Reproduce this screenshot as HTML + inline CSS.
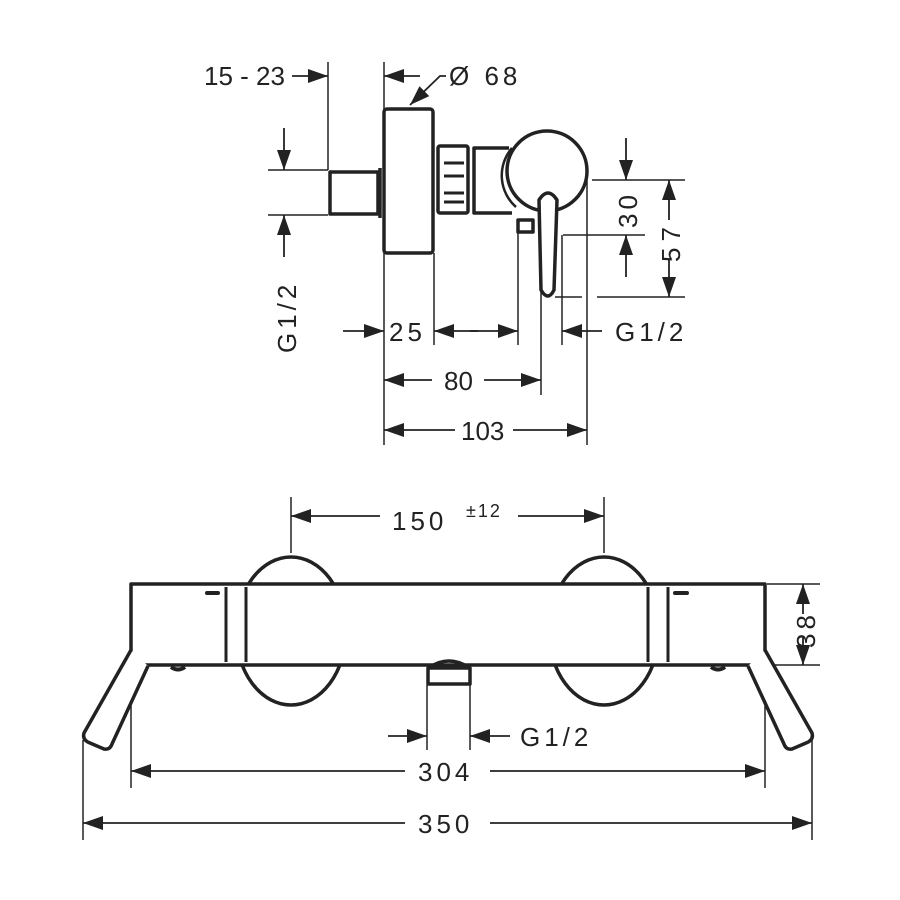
<!DOCTYPE html>
<html><head><style>html,body{margin:0;padding:0;background:#fff}svg{display:block}
text{font-family:"Liberation Sans","DejaVu Sans",sans-serif;fill:#222;font-size:26px}</style></head>
<body>
<svg width="900" height="900" viewBox="0 0 900 900" xmlns="http://www.w3.org/2000/svg">
<defs>
<marker id="a" viewBox="0 0 20 14" refX="20" refY="7" markerWidth="20" markerHeight="14" markerUnits="userSpaceOnUse" orient="auto"><path d="M0,0L20,7L0,14z" fill="#222"/></marker>
</defs>
<g stroke="#222" fill="none">
<g stroke-width="1.5">
<line x1="328" y1="62" x2="328" y2="170"/>
<line x1="384" y1="62" x2="384" y2="445"/>
<line x1="268" y1="170" x2="328" y2="170"/>
<line x1="268" y1="215" x2="328" y2="215"/>
<line x1="434" y1="253" x2="434" y2="345"/>
<line x1="518" y1="232" x2="518" y2="345"/>
<line x1="562" y1="235" x2="562" y2="345"/>
<line x1="541" y1="245" x2="541" y2="395"/>
<line x1="587" y1="180" x2="587" y2="445"/>
<line x1="592" y1="180" x2="685" y2="180"/>
<line x1="563" y1="235" x2="645" y2="235"/>
<line x1="555" y1="297" x2="582" y2="297"/>
<line x1="597" y1="297" x2="685" y2="297"/>
<line x1="291" y1="497" x2="291" y2="553"/>
<line x1="604" y1="497" x2="604" y2="553"/>
<line x1="767" y1="584" x2="820" y2="584"/>
<line x1="767" y1="665" x2="820" y2="665"/>
<line x1="131" y1="665" x2="131" y2="788"/>
<line x1="765" y1="665" x2="765" y2="788"/>
<line x1="83" y1="740" x2="83" y2="840"/>
<line x1="812" y1="740" x2="812" y2="840"/>
<line x1="427" y1="685" x2="427" y2="750"/>
<line x1="470" y1="685" x2="470" y2="750"/>
</g>
<g stroke-width="1.8">
<line x1="292" y1="76" x2="328" y2="76" marker-end="url(#a)"/>
<line x1="420" y1="76" x2="384" y2="76" marker-end="url(#a)"/>
<polyline points="446,76 440,76 410,105" marker-end="url(#a)"/>
<line x1="284" y1="128" x2="284" y2="170" marker-end="url(#a)"/>
<line x1="284" y1="257" x2="284" y2="215" marker-end="url(#a)"/>
<line x1="343" y1="331" x2="384" y2="331" marker-end="url(#a)"/>
<line x1="478" y1="331" x2="434" y2="331" marker-end="url(#a)"/>
<line x1="470" y1="331" x2="518" y2="331" marker-end="url(#a)"/>
<line x1="602" y1="331" x2="562" y2="331" marker-end="url(#a)"/>
<line x1="432" y1="380" x2="384" y2="380" marker-end="url(#a)"/>
<line x1="484" y1="380" x2="541" y2="380" marker-end="url(#a)"/>
<line x1="455" y1="430" x2="384" y2="430" marker-end="url(#a)"/>
<line x1="513" y1="430" x2="587" y2="430" marker-end="url(#a)"/>
<line x1="626" y1="138" x2="626" y2="180" marker-end="url(#a)"/>
<line x1="626" y1="277" x2="626" y2="235" marker-end="url(#a)"/>
<line x1="669" y1="220" x2="669" y2="180" marker-end="url(#a)"/>
<line x1="669" y1="260" x2="669" y2="297" marker-end="url(#a)"/>
<line x1="380" y1="516" x2="291" y2="516" marker-end="url(#a)"/>
<line x1="518" y1="516" x2="604" y2="516" marker-end="url(#a)"/>
<line x1="803" y1="614" x2="803" y2="584" marker-end="url(#a)"/>
<line x1="803" y1="636" x2="803" y2="665" marker-end="url(#a)"/>
<line x1="388" y1="736" x2="427" y2="736" marker-end="url(#a)"/>
<line x1="510" y1="736" x2="470" y2="736" marker-end="url(#a)"/>
<line x1="405" y1="771" x2="131" y2="771" marker-end="url(#a)"/>
<line x1="490" y1="771" x2="765" y2="771" marker-end="url(#a)"/>
<line x1="405" y1="823" x2="83" y2="823" marker-end="url(#a)"/>
<line x1="490" y1="823" x2="812" y2="823" marker-end="url(#a)"/>
</g>
<g stroke-width="3.5" stroke-linejoin="round">
<rect x="384" y="109" width="49" height="144" rx="3"/>
<rect x="330" y="172" width="48" height="42"/>
<line x1="380" y1="168" x2="380" y2="218"/>
<rect x="438" y="146" width="30" height="67" rx="2"/>
<path d="M444,163H464M444,176H464M444,193H464M444,202H464" stroke-width="3"/>
<path d="M509,148H474V213H512"/>
<circle cx="547" cy="171" r="40"/>
<path d="M512,148 A42,42 0 0 0 516,207" stroke-width="2.5"/>
<rect x="518" y="220" width="15" height="12"/>
<path d="M539,200 Q548,186 557,200 L554,290 Q548,302 541,290 Z" fill="#fff"/>
</g>
<g stroke-width="3.5" stroke-linejoin="round">
<ellipse cx="291" cy="631" rx="55" ry="74"/>
<ellipse cx="604" cy="631" rx="55" ry="74"/>
<rect x="131" y="584" width="634" height="81" fill="#fff"/>
<path d="M226,587V662M246,587V662M648,587V662M668,587V662" stroke-width="3"/>
<path d="M207,593H218M675,593H687" stroke-width="4" stroke-linecap="round"/>
<path d="M171,667 Q178,672 185,667M711,667 Q718,672 725,667" stroke-width="4"/>
<rect x="428" y="668" width="42" height="16"/>
<path d="M430,667 Q449,655 468,667"/>
<path d="M131,650 L84,733 Q82,740 90,743 L104,749 Q110,750 112,744 L148,666" fill="#fff"/>
<path d="M765,650 L812,733 Q814,740 806,743 L792,749 Q786,750 784,744 L748,666" fill="#fff"/>
</g>
</g>
<text x="204" y="85">15 - 23</text>
<text x="449" y="85" letter-spacing="4">Ø 68</text>
<text x="389" y="341" letter-spacing="4">25</text>
<text x="615" y="341" letter-spacing="4">G1/2</text>
<text x="444" y="390">80</text>
<text x="461" y="440">103</text>
<text transform="translate(296,353) rotate(-90)" letter-spacing="4">G1/2</text>
<text transform="translate(637,228) rotate(-90)" letter-spacing="4">30</text>
<text transform="translate(680,262) rotate(-90)" letter-spacing="6">57</text>
<text x="392" y="530" letter-spacing="4">150</text>
<text x="466" y="517" style="font-size:18px" letter-spacing="2">±12</text>
<text transform="translate(815,648) rotate(-90)" letter-spacing="4">38</text>
<text x="520" y="746" letter-spacing="4">G1/2</text>
<text x="418" y="781" letter-spacing="4">304</text>
<text x="418" y="833" letter-spacing="4">350</text>
</svg>
</body></html>
